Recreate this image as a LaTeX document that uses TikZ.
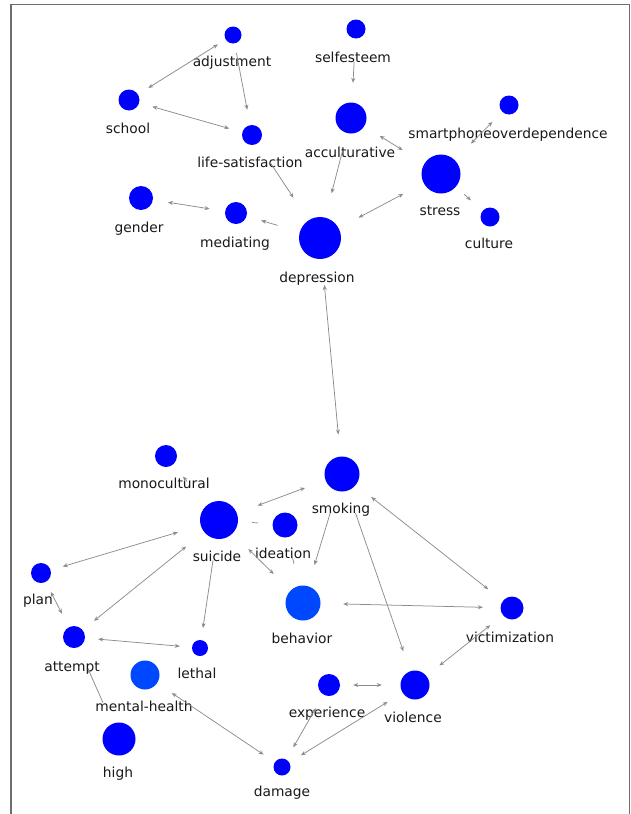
\documentclass[tikz,border=0pt]{standalone}
\usepackage{fontspec}
\setmainfont{DejaVu Sans}
\usetikzlibrary{arrows.meta}
\definecolor{nodeblue}{RGB}{0,0,255}
\definecolor{lightblue}{RGB}{0,72,255}
\definecolor{edgegray}{RGB}{140,140,140}
\definecolor{framegray}{RGB}{110,110,110}
\begin{document}
\begin{tikzpicture}[x=1pt,y=-1pt,
  vtx/.style={circle,fill=nodeblue,draw=none,inner sep=0pt,minimum size=#1},
  lvtx/.style={circle,fill=lightblue,draw=none,inner sep=0pt,minimum size=#1},
  lab/.style={anchor=base,inner sep=0pt,text=black!90,font=\fontsize{13.8}{16}\selectfont},
  edge/.style={draw=edgegray,line width=0.75pt,>={Stealth[length=5pt,width=4pt]}}]
\useasboundingbox (0,0) rectangle (631,814);
% frame
\draw[framegray,line width=1.1pt] (11,814) -- (11,4.5) -- (629.5,4.5) -- (629.5,814);
% nodes
\node[vtx=17] (adj) at (233,35) {};
\node[vtx=19] (self) at (356,29) {};
\node[vtx=21] (school) at (129,100) {};
\node[vtx=20] (life) at (252,135) {};
\node[vtx=31] (acc) at (351,118) {};
\node[vtx=19] (smart) at (509,105) {};
\node[vtx=39] (stress) at (441,174) {};
\node[vtx=19] (culture) at (490,217) {};
\node[vtx=24] (gender) at (141,198) {};
\node[vtx=22] (med) at (236,213) {};
\node[vtx=42] (dep) at (320,238) {};
\node[vtx=22] (mono) at (166,456) {};
\node[vtx=35] (smok) at (342,474) {};
\node[vtx=38] (sui) at (219,520) {};
\node[vtx=25] (idea) at (285,525) {};
\node[vtx=20] (plan) at (41,573) {};
\node[lvtx=35] (behav) at (303,603) {};
\node[vtx=23] (vict) at (512,608) {};
\node[vtx=22] (att) at (74,637) {};
\node[vtx=16] (lethal) at (200,648) {};
\node[lvtx=29] (mh) at (145,675) {};
\node[vtx=22] (exp) at (329,685) {};
\node[vtx=29] (viol) at (415,685) {};
\node[vtx=33] (high) at (119,739) {};
\node[vtx=17] (dmg) at (282,767) {};
% labels
\node[lab] (adjL) at (232,66) {adjustment};
\node[lab] (selfL) at (353,62) {selfesteem};
\node[lab] (schoolL) at (128,133) {school};
\node[lab] (lifeL) at (250,167) {life-satisfaction};
\node[lab] (accL) at (350,157) {acculturative};
\node[lab] (smartL) at (508,138) {smartphoneoverdependence};
\node[lab] (stressL) at (440,215) {stress};
\node[lab] (cultureL) at (489,248) {culture};
\node[lab] (genderL) at (139,232) {gender};
\node[lab] (medL) at (235,247) {mediating};
\node[lab] (depL) at (317,282) {depression};
\node[lab] (monoL) at (164,488) {monocultural};
\node[lab] (smokL) at (341,513) {smoking};
\node[lab] (suiL) at (217,561) {suicide};
\node[lab] (ideaL) at (283,558) {ideation};
\node[lab] (planL) at (38,604) {plan};
\node[lab] (behavL) at (302,643) {behavior};
\node[lab] (victL) at (510,642) {victimization};
\node[lab] (attL) at (72,671) {attempt};
\node[lab] (lethalL) at (197,678) {lethal};
\node[lab] (mhL) at (144,711) {mental-health};
\node[lab] (expL) at (327,717) {experience};
\node[lab] (violL) at (413,722) {violence};
\node[lab] (highL) at (118,777) {high};
\node[lab] (dmgL) at (282,796) {damage};
% edges
\draw[edge,<->,shorten <=12pt,shorten >=9pt] (school) -- (adj);
\draw[edge,->,shorten <=9.5pt,shorten >=15.5pt] (adj) -- (life);
\draw[edge,<->,shorten <=13.5pt,shorten >=13.5pt] (school) -- (life);
\draw[edge,->,shorten <=23.5pt,shorten >=19.5pt] (self) -- (acc);
\draw[edge,->,shorten <=22pt,shorten >=27pt] (life) -- (dep);
\draw[edge,->,shorten <=18pt,shorten >=25pt] (acc) -- (dep);
\draw[edge,<->,shorten <=18pt,shorten >=25.5pt] (acc) -- (stress);
\draw[edge,<->,shorten <=23pt,shorten >=14pt] (stress) -- (smart);
\draw[edge,->,shorten <=11pt,shorten >=15.5pt] (stress) -- (culture);
\draw[edge,<->,shorten <=22.4pt,shorten >=23pt] (dep) -- (stress);
\draw[edge,->,shorten <=23pt,shorten >=15pt] (dep) -- (med);
\draw[edge,<->,shorten <=15pt,shorten >=15.5pt] (gender) -- (med);
\draw[edge,<->,shorten <=26pt,shorten >=22pt] (dep) -- (smok);
\draw[edge,<->,shorten <=21.7pt,shorten >=22pt] (smok) -- (sui);
\draw[edge,->,shorten <=23pt,shorten >=22pt] (smok) -- (behav);
\draw[edge,->,shorten <=23.5pt,shorten >=21pt] (smok) -- (viol);
\draw[edge,<->,shorten <=19.5pt,shorten >=18.5pt] (smok) -- (vict);
\draw[edge,<->,shorten <=22.5pt,shorten >=17.5pt] (behav) -- (vict);
\draw[edge,<->,shorten <=16pt,shorten >=16.5pt] (vict) -- (viol);
\draw[edge,<->,shorten <=13pt,shorten >=18.5pt] (exp) -- (viol);
\draw[edge,<->,shorten <=15.4pt,shorten >=14pt] (exp) -- (dmg);
\draw[edge,<->,shorten <=17.5pt,shorten >=13.5pt] (viol) -- (dmg);
\draw[edge,<->,shorten <=17.5pt,shorten >=13.5pt] (mh) -- (dmg);
\draw[edge,<->,shorten <=23.7pt,shorten >=12.5pt] (sui) -- (plan);
\draw[edge,<->,shorten <=23pt,shorten >=14.5pt] (sui) -- (att);
\draw[edge,->,shorten <=21.6pt,shorten >=12pt] (sui) -- (lethal);
\draw[edge,<->,shorten <=11pt,shorten >=15pt] (plan) -- (att);
\draw[edge,<->,shorten <=13pt,shorten >=12pt] (att) -- (lethal);
\draw[edge,->,shorten <=23pt,shorten >=23pt] (high) -- (att);
\draw[edge,<->,shorten <=22pt,shorten >=23.5pt] (sui) -- (behav);
\draw[edge,shorten <=14pt,shorten >=14.5pt] (sui) -- (idea);
\draw[edge,shorten <=18.5pt,shorten >=22.5pt] (idea) -- (behav);
\draw[edge,->,shorten <=31pt,shorten >=15.4pt] (sui) -- (mono);
\end{tikzpicture}
\end{document}
